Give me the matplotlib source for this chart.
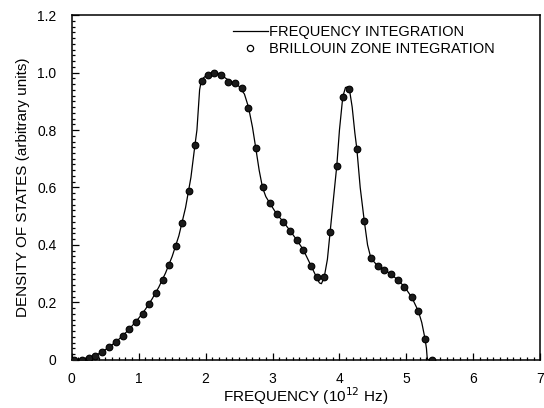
import matplotlib
matplotlib.use("Agg")
import matplotlib.pyplot as plt
from matplotlib.lines import Line2D
from matplotlib.ticker import MultipleLocator, FixedFormatter, FixedLocator

plt.rcParams['font.family'] = ['Liberation Sans', 'DejaVu Sans']

# Brillouin zone integration points
pts_x = [0.03, 0.15, 0.26, 0.35, 0.45, 0.56, 0.66, 0.76, 0.86, 0.96,
         1.06, 1.16, 1.26, 1.36, 1.46, 1.55, 1.65, 1.75, 1.84, 1.94,
         2.03, 2.13, 2.23, 2.34, 2.44, 2.54, 2.64, 2.75, 2.85, 2.96,
         3.06, 3.16, 3.26, 3.36, 3.46, 3.57, 3.67, 3.77, 3.86, 3.96,
         4.05, 4.15, 4.26, 4.37, 4.47, 4.57, 4.67, 4.77, 4.87, 4.97,
         5.08, 5.18, 5.28, 5.38]
pts_y = [0.000, 0.001, 0.006, 0.015, 0.029, 0.044, 0.063, 0.082, 0.107, 0.132,
         0.161, 0.195, 0.233, 0.277, 0.330, 0.395, 0.475, 0.588, 0.747, 0.970,
         0.991, 0.997, 0.991, 0.968, 0.965, 0.945, 0.875, 0.736, 0.600, 0.547,
         0.508, 0.481, 0.450, 0.418, 0.383, 0.327, 0.288, 0.288, 0.444, 0.675,
         0.916, 0.943, 0.734, 0.485, 0.354, 0.327, 0.313, 0.299, 0.278, 0.255,
         0.218, 0.169, 0.072, 0.000]

# Frequency integration curve
line_x = [0.00, 0.10, 0.20, 0.30, 0.40, 0.50, 0.60, 0.70, 0.80, 0.90,
          1.00, 1.10, 1.20, 1.30, 1.40, 1.50, 1.60, 1.70, 1.78, 1.84,
          1.87, 1.89, 1.91, 1.93, 1.97, 2.03, 2.10, 2.16, 2.23, 2.30,
          2.40, 2.50, 2.58, 2.64, 2.70, 2.75, 2.80, 2.85, 2.90, 2.96,
          3.06, 3.16, 3.26, 3.36, 3.46, 3.57, 3.64, 3.70, 3.73, 3.77,
          3.82, 3.86, 3.91, 3.96, 4.00, 4.05, 4.09, 4.12, 4.15, 4.19,
          4.23, 4.26, 4.31, 4.37, 4.42, 4.47, 4.57, 4.67, 4.77, 4.87,
          4.97, 5.08, 5.18, 5.23, 5.28, 5.30, 5.31, 5.32, 5.40]
line_y = [0.000, 0.001, 0.004, 0.010, 0.021, 0.035, 0.052, 0.071, 0.093, 0.118,
          0.145, 0.176, 0.212, 0.253, 0.302, 0.360, 0.432, 0.530, 0.635, 0.747,
          0.800, 0.870, 0.940, 0.965, 0.982, 0.993, 1.000, 1.000, 0.993, 0.980,
          0.966, 0.952, 0.925, 0.880, 0.810, 0.736, 0.660, 0.600, 0.568, 0.545,
          0.508, 0.481, 0.450, 0.418, 0.383, 0.330, 0.296, 0.268, 0.265, 0.285,
          0.350, 0.444, 0.560, 0.675, 0.800, 0.916, 0.948, 0.950, 0.940, 0.880,
          0.790, 0.734, 0.600, 0.485, 0.400, 0.354, 0.327, 0.313, 0.299, 0.278,
          0.255, 0.218, 0.169, 0.130, 0.072, 0.040, 0.010, 0.000, 0.000]

x_ticks = [0, 1, 2, 3, 4, 5, 6, 7]
x_labels = ['0', '1', '2', '3', '4', '5', '6', '7']
y_ticks = [0, 0.2, 0.4, 0.6, 0.8, 1.0, 1.2]
y_labels = ['0', '0.2', '0.4', '0.6', '0.8', '1.0', '1.2']

fig = plt.figure(figsize=(5.44, 4.08), dpi=100)
ax = fig.add_axes([0.132, 0.118, 0.861, 0.845])

ax.plot(line_x, line_y, color='black', lw=0.9, zorder=2)
ax.plot(pts_x, pts_y, linestyle='none', marker='o', ms=4.8,
        markerfacecolor='#1a1a1a', markeredgecolor='black', mew=0.8, zorder=3)

ax.set_xlim(0, 7)
ax.set_ylim(0, 1.2)
ax.xaxis.set_major_locator(FixedLocator(x_ticks))
ax.xaxis.set_major_formatter(FixedFormatter(x_labels))
ax.yaxis.set_major_locator(FixedLocator(y_ticks))
ax.yaxis.set_major_formatter(FixedFormatter(y_labels))
ax.xaxis.set_minor_locator(MultipleLocator(0.1))
ax.yaxis.set_minor_locator(MultipleLocator(0.02))
ax.tick_params(which='both', direction='in', top=False, right=False,
               labelsize=10, width=0.9, color='black')
ax.tick_params(which='major', length=5)
ax.tick_params(axis='x', which='major', pad=9)
ax.tick_params(axis='y', which='major', pad=11)
ax.tick_params(which='minor', length=2.5)
for s in ax.spines.values():
    s.set_linewidth(1.1)

ax.set_xlabel('FREQUENCY (10$^{12}$ Hz)', fontsize=11, labelpad=-1)
ax.set_ylabel('DENSITY OF STATES (arbitrary units)', fontsize=11, labelpad=5)

h1 = Line2D([], [], color='black', lw=0.9)
h2 = Line2D([], [], linestyle='none', marker='o', ms=4.5,
            markerfacecolor='white', markeredgecolor='black', mew=0.9)
ax.legend([h1, h2], ['FREQUENCY INTEGRATION', 'BRILLOUIN ZONE INTEGRATION'],
          loc='upper left', bbox_to_anchor=(0.344, 0.972), frameon=False,
          fontsize=10.5, handlelength=2.4, handletextpad=0.1,
          borderaxespad=0, borderpad=0, labelspacing=0.2)

fig.savefig('out.png', dpi=100)
